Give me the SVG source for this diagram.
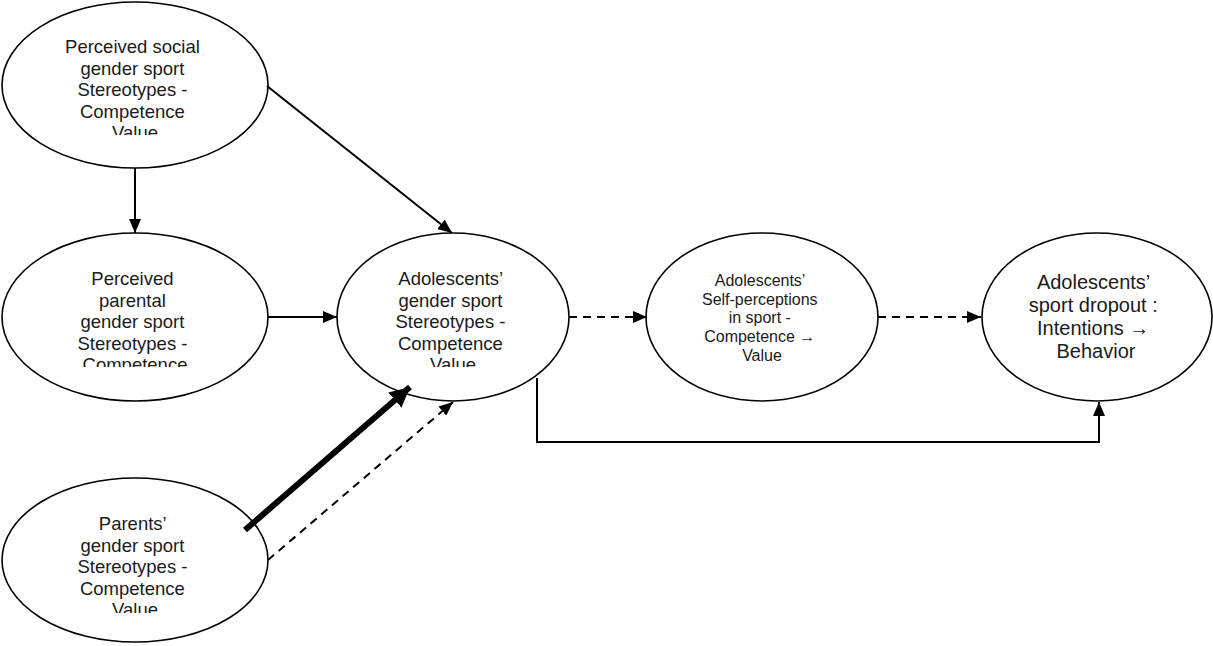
<svg xmlns="http://www.w3.org/2000/svg" width="1213" height="646" viewBox="0 0 1213 646">
<style>
.node ellipse{fill:#fff;stroke:#000;stroke-width:1.6}
.node text{font-family:"Liberation Sans",Arial,sans-serif;fill:#1a1a1a;text-anchor:middle}
.f18{font-size:18.5px}
.f16{font-size:16px}
.f20{font-size:20px}
.conn{fill:none;stroke:#000;stroke-width:2}
.dash{stroke-dasharray:8 6}
</style>
<defs>
<marker id="arr" viewBox="0 0 14 12" refX="14" refY="6" markerWidth="14" markerHeight="12" markerUnits="userSpaceOnUse" orient="auto">
<path d="M0,0 L14,6 L0,12 Z" fill="#000"/>
</marker>
<marker id="arrBig" viewBox="0 0 20 20" refX="20" refY="10" markerWidth="20" markerHeight="20" markerUnits="userSpaceOnUse" orient="auto">
<path d="M0,0 L20,10 L0,20 Z" fill="#000"/>
</marker>
<clipPath id="c1"><rect x="0" y="0" width="300" height="135"/></clipPath>
<clipPath id="c2"><rect x="0" y="230" width="300" height="137"/></clipPath>
<clipPath id="c3"><rect x="330" y="230" width="250" height="137"/></clipPath>
<clipPath id="c6"><rect x="0" y="470" width="300" height="143"/></clipPath>
</defs>

<g id="node-social" class="node">
<ellipse cx="135" cy="85" rx="133" ry="83"/>
<g clip-path="url(#c1)"><text class="f18">
<tspan x="135" y="53">Perceived social</tspan>
<tspan x="135" y="74.5">gender sport</tspan>
<tspan x="135" y="96">Stereotypes -</tspan>
<tspan x="135" y="117.5">Competence</tspan>
<tspan x="135" y="139">Value</tspan>
</text></g>
</g>

<g id="node-parental" class="node">
<ellipse cx="135" cy="317" rx="133" ry="84"/>
<g clip-path="url(#c2)"><text class="f18">
<tspan x="135" y="285">Perceived</tspan>
<tspan x="135" y="306.5">parental</tspan>
<tspan x="135" y="328">gender sport</tspan>
<tspan x="135" y="349.5">Stereotypes -</tspan>
<tspan x="135" y="371">Competence</tspan>
</text></g>
</g>

<g id="node-adolescents" class="node">
<ellipse cx="453" cy="317" rx="116" ry="84"/>
<g clip-path="url(#c3)"><text class="f18">
<tspan x="453" y="285">Adolescents’</tspan>
<tspan x="453" y="306.5">gender sport</tspan>
<tspan x="453" y="328">Stereotypes -</tspan>
<tspan x="453" y="349.5">Competence</tspan>
<tspan x="453" y="371">Value</tspan>
</text></g>
</g>

<g id="node-selfperceptions" class="node">
<ellipse cx="762" cy="317" rx="116" ry="84"/>
<text class="f16">
<tspan x="762" y="286">Adolescents’</tspan>
<tspan x="762" y="304.7">Self-perceptions</tspan>
<tspan x="762" y="323.4">in sport -</tspan>
<tspan x="762" y="342">Competence →</tspan>
<tspan x="762" y="360.7">Value</tspan>
</text>
</g>

<g id="node-dropout" class="node">
<ellipse cx="1097" cy="317" rx="115" ry="84"/>
<text class="f20">
<tspan x="1096" y="288.5">Adolescents’</tspan>
<tspan x="1096" y="311.8">sport dropout :</tspan>
<tspan x="1096" y="335.1">Intentions →</tspan>
<tspan x="1096" y="358.4">Behavior</tspan>
</text>
</g>

<g id="node-parents" class="node">
<ellipse cx="135" cy="560" rx="133" ry="82"/>
<g clip-path="url(#c6)"><text class="f18">
<tspan x="135" y="530">Parents’</tspan>
<tspan x="135" y="551.5">gender sport</tspan>
<tspan x="135" y="573">Stereotypes -</tspan>
<tspan x="135" y="594.5">Competence</tspan>
<tspan x="135" y="616">Value</tspan>
</text></g>
</g>

<g id="connectors">
<line class="conn" x1="135" y1="168" x2="135" y2="233" marker-end="url(#arr)"/>
<line class="conn" x1="267" y1="86" x2="452" y2="233" marker-end="url(#arr)"/>
<line class="conn" x1="268" y1="317" x2="337" y2="317" marker-end="url(#arr)"/>
<line class="conn" x1="245" y1="530" x2="410" y2="387" style="stroke-width:6" marker-end="url(#arrBig)"/>
<line class="conn dash" x1="268" y1="560" x2="453" y2="402" marker-end="url(#arr)"/>
<line class="conn dash" x1="569" y1="317" x2="647" y2="317" marker-end="url(#arr)"/>
<line class="conn dash" x1="878" y1="317" x2="981" y2="317" marker-end="url(#arr)"/>
<path class="conn" d="M537,378 V442 H1099 V402" marker-end="url(#arr)"/>
</g>
</svg>
